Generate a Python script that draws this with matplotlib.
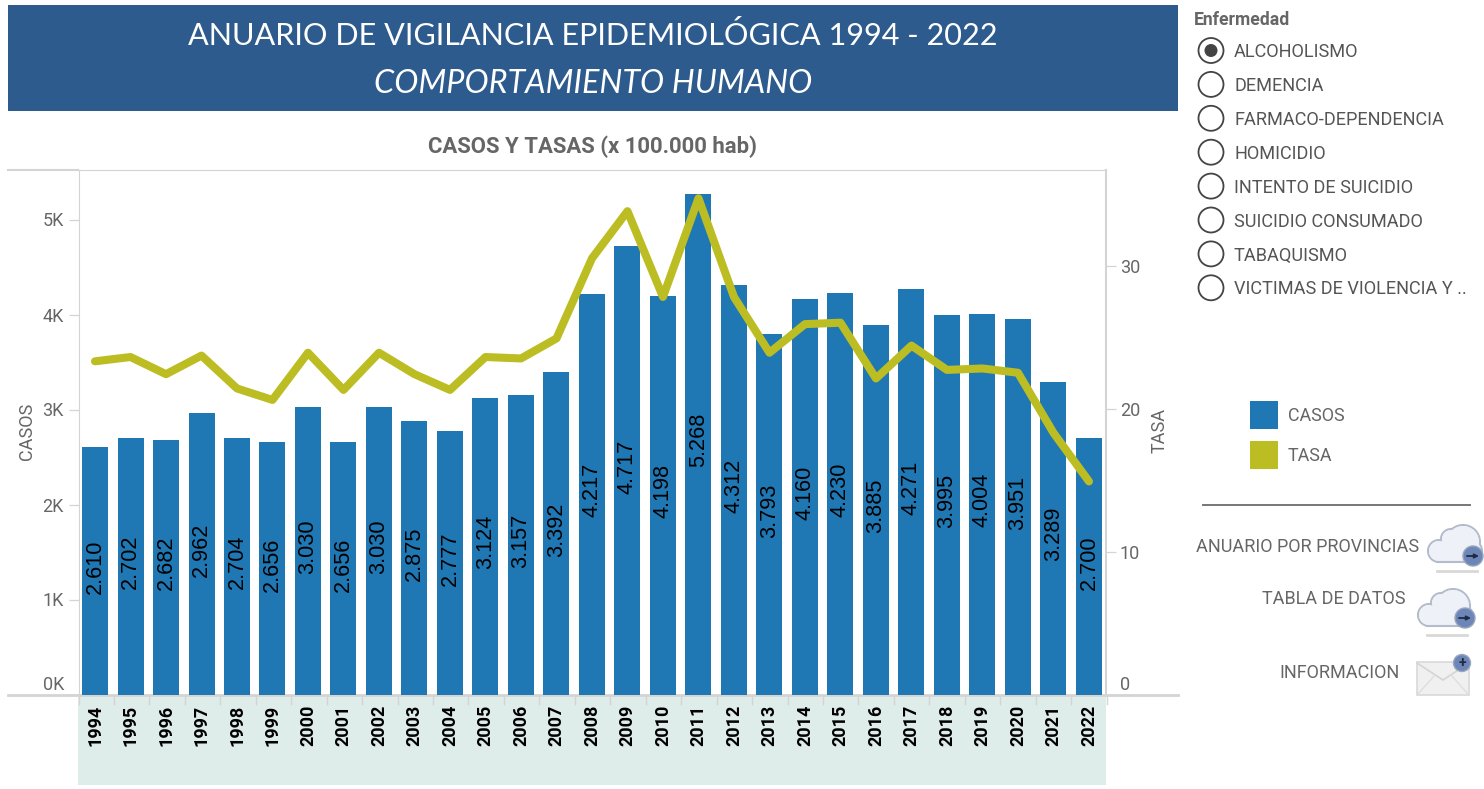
import matplotlib
matplotlib.use("Agg")
import matplotlib.pyplot as plt
from matplotlib.patches import Rectangle, Ellipse

W, H = 1484, 789
years = list(range(1994, 2023))
casos = [2610, 2702, 2682, 2962, 2704, 2656, 3030, 2656, 3030, 2875, 2777, 3124, 3157, 3392,
         4217, 4717, 4198, 5268, 4312, 3793, 4160, 4230, 3885, 4271, 3995, 4004, 3951, 3289, 2700]
tasa = [23.3, 23.6, 22.4, 23.7, 21.4, 20.6, 23.9, 21.3, 23.9, 22.4, 21.3, 23.6, 23.5, 24.9,
        30.5, 33.8, 27.8, 34.7, 27.8, 23.9, 25.9, 26.0, 22.1, 24.4, 22.7, 22.8, 22.5, 18.3, 14.9]
enfermedades = ["ALCOHOLISMO", "DEMENCIA", "FARMACO-DEPENDENCIA", "HOMICIDIO", "INTENTO DE SUICIDIO",
                "SUICIDIO CONSUMADO", "TABAQUISMO", "VICTIMAS DE VIOLENCIA Y .."]
left_ticks = [0, 1000, 2000, 3000, 4000, 5000]
left_labels = ["0K", "1K", "2K", "3K", "4K", "5K"]
right_ticks = [0, 10, 20, 30]

BLUE, OLIVE, GRID, TXT = "#1f77b4", "#bcbd22", "#d4d4d4", "#666666"
plt.rcParams["font.family"] = ["Roboto", "DejaVu Sans"]

fig = plt.figure(figsize=(W / 100, H / 100), dpi=100, facecolor="white")

def rect(x0, y0, x1, y1):
    return [x0 / W, 1 - y1 / H, (x1 - x0) / W, (y1 - y0) / H]

# overlay in pixel coordinates
ov = fig.add_axes([0, 0, 1, 1], zorder=0)
ov.set_xlim(0, W); ov.set_ylim(H, 0); ov.axis("off")
ov.add_patch(Rectangle((8, 5), 1170, 106, fc="#2d5b8e", ec="none"))
ov.add_patch(Rectangle((78, 695), 1028, 90, fc="#deecea", ec="none"))
ov.text(593, 35.5, "ANUARIO DE VIGILANCIA EPIDEMIOLÓGICA 1994 - 2022", color="white", fontsize=22.1,
        family="Lato", ha="center", va="center")
ov.text(593, 84, "COMPORTAMIENTO HUMANO", color="white", fontsize=23.3, family="Lato",
        style="italic", ha="center", va="center")
ov.text(593, 146.5, "CASOS Y TASAS (x 100.000 hab)", color=TXT, fontsize=15.9, fontweight="bold",
        ha="center", va="center")
ov.plot([8, 78], [169.5, 169.5], color=GRID, lw=1.5)
ov.plot([8, 1178], [694.5, 694.5], color=GRID, lw=2, zorder=1)

# chart
ax = fig.add_axes(rect(78.5, 169.5, 1106, 694.5), zorder=1)
ax.patch.set_alpha(0)
ax.bar(range(len(years)), casos, width=26 / 35.5, color=BLUE, zorder=2)
for i, v in enumerate(casos):
    ax.annotate(f"{v:,}".replace(",", "."), (i, v / 2), xytext=(0, 4), textcoords="offset pixels",
                rotation=90, ha="center", va="center", fontsize=15.6, color="black",
                family="Liberation Sans", zorder=5)
ax.set_xlim(-0.465, 28.48)
ax.set_ylim(0, 525 / 95 * 1000)
ax.set_yticks(left_ticks, left_labels)
ax.set_xticks(range(len(years)), years)
ax.tick_params(axis="y", length=7.5, width=0.9, color=GRID, labelcolor=TXT, labelsize=13, pad=3)
ax.tick_params(axis="x", length=0, labelsize=13, labelcolor="black", rotation=90, pad=7.5)
for t in ax.get_xticklabels():
    t.set_fontweight("bold")
for s in ["left", "top"]:
    ax.spines[s].set_color(GRID)
ax.spines["right"].set_color(GRID)
ax.spines["right"].set_linewidth(1.5)
ax.spines["bottom"].set_visible(False)
ax.yaxis.get_majorticklabels()[0].set_verticalalignment("bottom")
ax.set_ylabel("CASOS", fontsize=13, color=TXT)
ax.yaxis.set_label_coords((36 - 78.5) / 1027.5, (694 - 431) / 525)

ax2 = ax.twinx()
ax2.patch.set_alpha(0)
ax2.plot(range(len(years)), tasa, color=OLIVE, lw=5.8, solid_joinstyle="round", solid_capstyle="round", zorder=6)
ax2.set_ylim(0, 525 / 14.3)
ax2.set_yticks(right_ticks)
ax2.tick_params(axis="y", length=7, width=0.9, color=GRID, labelcolor=TXT, labelsize=13, pad=3)
ax2.yaxis.get_majorticklabels()[0].set_verticalalignment("bottom")
for s in ["left", "right", "top", "bottom"]:
    ax2.spines[s].set_visible(False)
ax2.set_ylabel("TASA", fontsize=13, color=TXT)
ax2.yaxis.set_label_coords((1151 - 78.5) / 1027.5, (694 - 430) / 525)

# separators under the axis
for i in range(len(years) + 1):
    x = 78.5 + (i * 35.45)
    ov.plot([x, x], [695, 704], color=GRID, lw=1, zorder=2)

# filter panel
ov.text(1194, 20, "Enfermedad", color=TXT, fontsize=12.7, fontweight="bold", va="center")
for i, name in enumerate(enfermedades):
    y = 50.5 + i * 33.9
    ov.add_patch(Ellipse((1211, y), 25, 25, fc="white", ec="#444444", lw=1.3))
    if i == 0:
        ov.add_patch(Ellipse((1211, y), 13, 13, fc="#444444", ec="none"))
    ov.text(1234, y + 1.6, name, color="#555555", fontsize=13.1, va="center")

# legend
for y, c, label in [(415, BLUE, "CASOS"), (455, OLIVE, "TASA")]:
    ov.add_patch(Rectangle((1250, y - 14), 28, 28, fc=c, ec="none"))
    ov.text(1288, y + 0.5, label, color="#666666", fontsize=12.9, va="center")
ov.plot([1203, 1470], [505, 505], color="#777777", lw=1.4)

# links
for x, y, s in [(1419, 545, "ANUARIO POR PROVINCIAS"), (1405, 597, "TABLA DE DATOS"), (1400, 671, "INFORMACION")]:
    ov.text(x, y + 1.5, s, color="#666666", fontsize=13, ha="right", va="center")

def cloud(x, y, bx, by):
    edge, fill = "#b4bccb", "#eef1f7"
    bumps = [(11, 26, 11), (23, 14, 10), (35, 17, 17), (43, 26, 11)]
    for dx, dy, r in bumps:
        ov.add_patch(Ellipse((x + dx, y + dy), 2 * r, 2 * r, fc=fill, ec=edge, lw=1.5, zorder=3))
    for dx, dy, r in bumps:
        ov.add_patch(Ellipse((x + dx, y + dy), 2 * r - 2, 2 * r - 2, fc=fill, ec="none", zorder=4))
    ov.add_patch(Rectangle((x + 11, y + 22), 32, 15, fc=fill, ec="none", zorder=4))
    ov.plot([x + 9, x + 44], [y + 37, y + 37], color=edge, lw=1.5, zorder=4)
    ov.plot([x + 9, x + 49], [y + 46, y + 46], color="#d8d8d8", lw=2, zorder=3)
    ov.add_patch(Ellipse((bx, by), 20, 20, fc="#6d86b8", ec="#9aa6bd", lw=1, zorder=5))
    ov.annotate("", (bx + 6, by), (bx - 6, by), zorder=6,
                arrowprops=dict(arrowstyle="-|>", color="#1f2a44", lw=1.3, mutation_scale=6, shrinkA=0, shrinkB=0))

cloud(1428, 525, 1473, 556)
cloud(1418, 589, 1465, 618)

ov.add_patch(Rectangle((1417, 662), 52, 33, fc="#f0f0f0", ec="#d9d9d9", lw=1.2, zorder=3))
ov.plot([1417, 1443, 1469], [663, 680, 663], color="#d4d4d4", lw=1.2, zorder=4)
ov.plot([1417, 1435], [695, 675], color="#dedede", lw=1, zorder=4)
ov.plot([1469, 1451], [695, 675], color="#dedede", lw=1, zorder=4)
ov.add_patch(Ellipse((1462, 663), 17, 17, fc="#6d86b8", ec="#9aa6bd", lw=1, zorder=5))
ov.text(1462, 662.5, "+", color="#1f2a44", fontsize=10, fontweight="bold", ha="center", va="center", zorder=6)

fig.savefig("out.png", dpi=100)
